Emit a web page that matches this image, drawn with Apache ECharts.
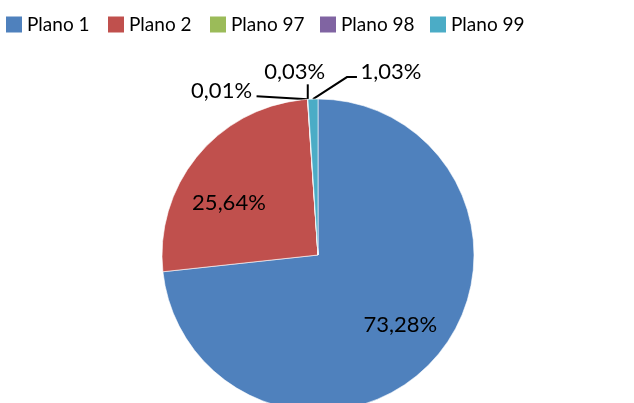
<!DOCTYPE html>
<html>
<head>
<meta charset="utf-8">
<script src="https://cdn.jsdelivr.net/npm/echarts@6/dist/echarts.min.js"></script>
<style>html,body{margin:0;padding:0;background:#fff}#c{width:634px;height:403px}</style>
</head>
<body>
<div id="c"></div>
<script>
var categories = ['Plano 1', 'Plano 2', 'Plano 97', 'Plano 98', 'Plano 99'];
var values = [73.28, 25.64, 0.01, 0.03, 1.03];
var colors = ['#4F81BD', '#C0504D', '#9BBB59', '#8064A2', '#4BACC6'];
var legendLeft = [6, 108, 210, 320, 430];

var FONT = 'Lato';
var chart = echarts.init(document.getElementById('c'), null, {renderer: 'canvas'});

function fmt(v) { return v.toFixed(2).replace('.', ',') + '%'; }

var legends = categories.map(function (c, i) {
  return {
    data: [c], left: legendLeft[i], top: 15, padding: 0, itemWidth: 16, itemHeight: 16, itemGap: 0,
    icon: 'rect', selectedMode: false,
    itemStyle: {borderWidth: 0},
    textStyle: {fontFamily: FONT, fontSize: 19, color: '#000', padding: [0, 0, 0, 0]}
  };
});

// label offsets (layout only)
var insideShift = {0: [22, 16], 1: [-27, 0]};
var outsideSpec = {
  2: {line: [[-51, -3]], text: [-86, -8]},
  3: {line: [[0, -15]], text: [-13, -27]},
  4: {line: [[34, -22], [44, -22]], text: [78, -27]}
};

var data = categories.map(function (c, i) {
  var d = {name: c, value: values[i], itemStyle: {color: colors[i]}};
  if (outsideSpec[i]) {
    d.label = {position: 'outside'};
    d.labelLine = {show: true, length: 5, length2: 5, lineStyle: {color: '#000', width: 2}};
  } else {
    d.label = {position: 'inside'};
    d.labelLine = {show: false};
  }
  return d;
});

chart.setOption({
  animation: false,
  legend: legends,
  series: [{
    type: 'pie',
    center: [318, 255],
    radius: 156,
    startAngle: 90,
    clockwise: true,
    avoidLabelOverlap: false,
    itemStyle: {borderColor: '#fff', borderWidth: 0.6},
    label: {
      show: true,
      fontFamily: FONT, fontSize: 22, color: '#000',
      formatter: function (p) { return fmt(p.value); }
    },
    labelLayout: function (p) {
      var i = p.dataIndex;
      if (insideShift[i]) {
        return {dx: insideShift[i][0], dy: insideShift[i][1]};
      }
      var s = outsideSpec[i];
      if (s && p.labelLinePoints) {
        var a = p.labelLinePoints[0];
        var pts = [[a[0], a[1]]];
        s.line.forEach(function (q) { pts.push([a[0] + q[0], a[1] + q[1]]); });
        return {
          x: a[0] + s.text[0], y: a[1] + s.text[1],
          align: 'center', verticalAlign: 'middle',
          labelLinePoints: pts
        };
      }
      return {};
    },
    data: data
  }]
});
</script>
</body>
</html>
